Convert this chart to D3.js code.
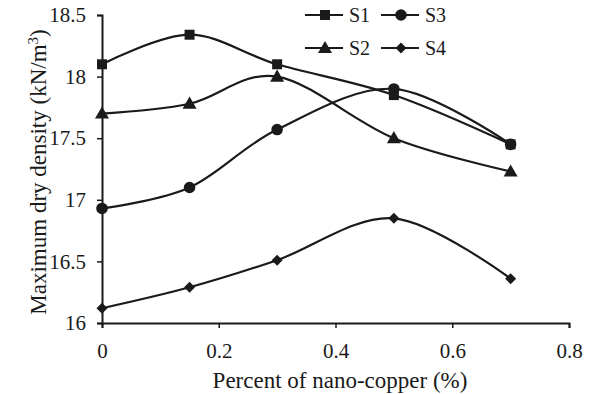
<!DOCTYPE html>
<html><head><meta charset="utf-8">
<script src="https://cdn.jsdelivr.net/npm/d3@7"></script>
<style>body{margin:0;background:#fff}svg{display:block}text{font-family:"Liberation Serif","Times New Roman",serif;fill:#1a1a1a}</style>
</head><body><svg id="c" width="590" height="394"></svg>
<script>
const xValues = [0, 0.15, 0.3, 0.5, 0.7];
const s1 = [18.10, 18.34, 18.10, 17.85, 17.45];
const s2 = [17.70, 17.78, 18.00, 17.50, 17.23];
const s3 = [16.93, 17.10, 17.57, 17.90, 17.45];
const s4 = [16.12, 16.29, 16.51, 16.85, 16.36];
const seriesNames = ["S1", "S2", "S3", "S4"];
const xTicks = [0, 0.2, 0.4, 0.6, 0.8];
const yTicks = [16, 16.5, 17, 17.5, 18, 18.5];

const svg = d3.select("#c");
const x = d3.scaleLinear().domain([0, 0.8]).range([102, 569]);
const y = d3.scaleLinear().domain([16, 18.5]).range([323, 15]);
const col = "#1a1a1a";

const xAxis = svg.append("g").attr("transform", "translate(0,323)")
  .call(d3.axisBottom(x).tickValues(xTicks).tickSize(5).tickPadding(15).tickFormat(d => d3.format("")(d)));
const yAxis = svg.append("g").attr("transform", "translate(102,0)")
  .call(d3.axisLeft(y).tickValues(yTicks).tickSize(5).tickPadding(11).tickFormat(d => d3.format("")(d)));
[xAxis, yAxis].forEach(g => {
  g.attr("font-family", null).attr("font-size", null);
  g.select(".domain").attr("stroke", col).attr("stroke-width", 2);
  g.selectAll(".tick line").attr("stroke", col).attr("stroke-width", 1.5);
  g.selectAll("text").attr("font-size", 21).attr("fill", "#333");
});

svg.append("text").attr("x", 340).attr("y", 388).attr("text-anchor", "middle").attr("font-size", 23).text("Percent of nano-copper (%)");
const yt = svg.append("text").attr("transform", "translate(46,172) rotate(-90)").attr("text-anchor", "middle").attr("font-size", 23);
yt.append("tspan").text("Maximum dry density (kN/m");
yt.append("tspan").attr("baseline-shift", "super").attr("font-size", 15).text("3");
yt.append("tspan").text(")");

const symbols = {S1: d3.symbolSquare, S2: d3.symbolTriangle, S3: d3.symbolCircle, S4: d3.symbolSquare};
const sizes = {S1: 100, S2: 85, S3: 105, S4: 60};
const rot = {S1: 0, S2: 0, S3: 0, S4: 45};
const dy = {S1: 0, S2: 1, S3: 0, S4: 0};
const data = {S1: s1, S2: s2, S3: s3, S4: s4};
const line = d3.line().x(d => x(d[0])).y(d => y(d[1])).curve(d3.curveCardinal.tension(0));

["S4", "S3", "S2", "S1"].forEach(name => {
  const pts = xValues.map((v, i) => [v, data[name][i]]);
  svg.append("path").datum(pts).attr("d", line).attr("fill", "none").attr("stroke", col).attr("stroke-width", 2.2);
  svg.selectAll(null).data(pts).enter().append("path")
    .attr("d", d3.symbol().type(symbols[name]).size(sizes[name]))
    .attr("transform", d => `translate(${x(d[0])},${y(d[1]) + dy[name]}) rotate(${rot[name]})`)
    .attr("fill", col);
});

// legend
const legendPos = {S1: [305, 15], S3: [381, 15], S2: [305, 48], S4: [381, 48]};
seriesNames.forEach(name => {
  const [lx, ly] = legendPos[name];
  const g = svg.append("g");
  g.append("line").attr("x1", lx).attr("x2", lx + 38).attr("y1", ly).attr("y2", ly).attr("stroke", col).attr("stroke-width", 2.2);
  g.append("path").attr("d", d3.symbol().type(symbols[name]).size(sizes[name]))
    .attr("transform", `translate(${lx + 20},${ly + dy[name]}) rotate(${rot[name]})`).attr("fill", col);
  g.append("text").attr("x", lx + 44).attr("y", ly + 7).attr("font-size", 20).text(name);
});
</script></body></html>
